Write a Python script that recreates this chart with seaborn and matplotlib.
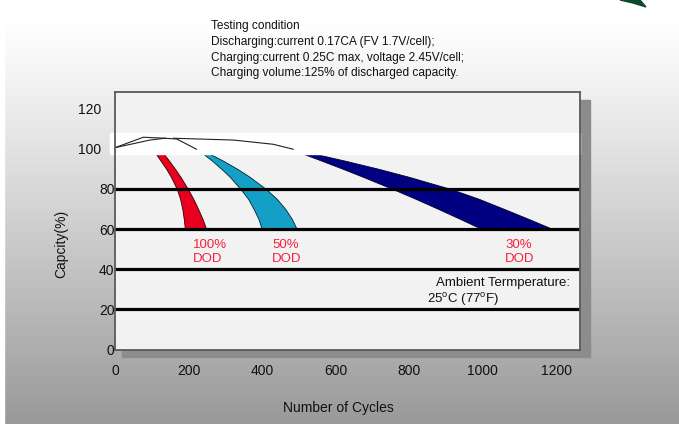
import numpy as np
import pandas as pd
import matplotlib
matplotlib.use("Agg")
import matplotlib.pyplot as plt
from matplotlib.patches import Rectangle, Polygon
import seaborn as sns

# ---------------- data ----------------
cap_levels = [98, 94, 90, 86, 80, 75, 70, 65, 60]
dod100_left = [109, 124, 139, 152, 168, 177, 183, 187, 190]
dod100_right = [130, 147, 163, 178, 198, 213, 226, 238, 248]
dod50_left = [236, 264, 289, 312, 341, 362, 377, 390, 399]
dod50_right = [252, 294, 332, 366, 410, 440, 463, 481, 494]
dod30_left = [504, 562, 619, 674, 754, 818, 879, 939, 997]
dod30_right = [530, 626, 716, 799, 912, 990, 1058, 1125, 1190]

# thin capacity traces drawn in the white band near 100 %
trace_a_x = [0, 77, 136]
trace_a_y = [100.5, 105.7, 105.2]
trace_b_x = [0, 95, 136]
trace_b_y = [100.5, 104.3, 105.2]
trace_c_x = [136, 168, 222]
trace_c_y = [105.2, 104.8, 99.7]
trace_d_x = [158, 322, 430, 485]
trace_d_y = [105.2, 104.3, 102.2, 99.7]

grid_levels = [20, 40, 60, 80]
x_ticks = [0, 200, 400, 600, 800, 1000, 1200]
y_ticks = [0, 20, 40, 60, 80, 100, 120]

title_lines = [
    "Testing condition",
    "Discharging:current 0.17CA (FV 1.7V/cell);",
    "Charging:current 0.25C max, voltage 2.45V/cell;",
    "Charging volume:125% of discharged capacity.",
]
dod_labels = ["100%\nDOD", "50%\nDOD", "30%\nDOD"]

# ---------------- style ----------------
sns.set_theme(style="white")
plt.rcParams["font.family"] = ["Liberation Sans", "DejaVu Sans"]
plt.rcParams["mathtext.fontset"] = "custom"
plt.rcParams["mathtext.rm"] = "Liberation Sans"
plt.rcParams["mathtext.it"] = "Liberation Sans:italic"

W, H = 679, 424
fig = plt.figure(figsize=(W / 100, H / 100), dpi=100)

# background gradient
bg = fig.add_axes([0, 0, 1, 1], zorder=-10)
rows = np.linspace(0, 1, 256)
vals = np.clip(1.0 - 0.40 * np.clip((rows - 0.05) / 0.95, 0, 1) ** 1.1, 0, 1)
img = np.repeat(vals[:, None], 8, axis=1)
img = np.dstack([img, img, img])
bg.imshow(img, aspect="auto", extent=[0, 1, 0, 1], origin="upper")
bg.add_patch(Rectangle((0, 0), 4 / W, 1, color="white", transform=bg.transAxes))
bg.set_axis_off()

# shadow behind the plotting frame
fig.patches.append(Rectangle((122 / W, (H - 357) / H), 468 / W, 257 / H,
                             transform=fig.transFigure, color="#8c8c8c", zorder=-5))
# logo fragment (top-right)
fig.patches.append(Polygon([(620 / W, 1), (640 / W, 1), (646 / W, 1 - 7 / H), (633 / W, 1 - 3 / H)],
                           closed=True, transform=fig.transFigure, color="#0c4a2a", zorder=5))

ax_bottom = 349.7
ax_top = 92
ax = fig.add_axes([115 / W, (H - ax_bottom) / H, 465 / W, (ax_bottom - ax_top) / H])
ax.set_facecolor("#f2f2f2")
ax.set_xlim(0, 1264)
ax.set_ylim(0, 128.2)

# bands
ax.fill_betweenx(cap_levels, dod100_left, dod100_right, color="#e8001e", edgecolor="#300000", lw=0.6, zorder=2)
ax.fill_betweenx(cap_levels, dod50_left, dod50_right, color="#149fc6", edgecolor="#002030", lw=0.6, zorder=2)
ax.fill_betweenx(cap_levels, dod30_left, dod30_right, color="#000080", edgecolor="#000030", lw=0.6, zorder=2)

# white band near 100 %
ax.add_patch(Rectangle((-0.011, 97.4), 1.011, 10.4, transform=ax.get_yaxis_transform(),
                       color="white", clip_on=False, zorder=3))

# thin traces via seaborn
traces = pd.concat([
    pd.DataFrame({"cycles": trace_a_x, "cap": trace_a_y, "id": "a"}),
    pd.DataFrame({"cycles": trace_b_x, "cap": trace_b_y, "id": "b"}),
    pd.DataFrame({"cycles": trace_c_x, "cap": trace_c_y, "id": "c"}),
    pd.DataFrame({"cycles": trace_d_x, "cap": trace_d_y, "id": "d"}),
])
for tid, grp in traces.groupby("id"):
    sns.lineplot(data=grp, x="cycles", y="cap", ax=ax, color="#222222", lw=0.8,
                 sort=False, estimator=None, zorder=4, legend=False)

# horizontal black lines
for g in grid_levels:
    ax.axhline(g, color="black", lw=2.3, zorder=5)

# frame
for s in ax.spines.values():
    s.set_visible(True)
    s.set_color("#5a5a5a")
    s.set_linewidth(1.3)
    s.set_zorder(6)

ax.set_xticks(x_ticks)
ax.set_xticklabels([str(v) for v in x_ticks], fontsize=10, color="#111111")
ax.set_yticks(y_ticks)
ax.set_yticklabels([str(v) for v in y_ticks], fontsize=10, color="#111111")
ax.tick_params(axis="x", length=0, pad=10)
ax.tick_params(axis="y", direction="in", length=4, width=1, color="#444444")
for t, v in zip(ax.yaxis.get_major_ticks(), y_ticks):
    t.set_pad(10.0 if v >= 100 else 0.3)

ax.set_xlabel("Number of Cycles", fontsize=10, color="#111111")
ax.xaxis.set_label_coords((338 - 115) / 465, (ax_bottom - 408) / (ax_bottom - ax_top))
ax.xaxis.label.set_va("center")
ax.set_ylabel("Capcity(%)", fontsize=10, color="#111111")
ax.yaxis.set_label_coords((61 - 115) / 465, (ax_bottom - 244) / (ax_bottom - ax_top))
ax.yaxis.label.set_va("center")
ax.yaxis.label.set_ha("center")

# DOD labels (positions in pixels -> axes fraction)
def axfrac(px, py):
    return ((px - 115) / 465, (ax_bottom - py) / (ax_bottom - ax_top))

for lab, (px, py) in zip(dod_labels, [(193, 252), (272, 252), (505, 252)]):
    ax.text(*axfrac(px, py), lab, transform=ax.transAxes, color="#f5203c",
            fontsize=9.5, ha="left", va="center", linespacing=1.15, zorder=7)

ax.text(*axfrac(570, 283), "Ambient Termperature:", transform=ax.transAxes,
        fontsize=9.5, ha="right", va="center", color="#111111", zorder=7)
ax.text(*axfrac(427, 300), r"25$^{\mathrm{o}}$C (77$^{\mathrm{o}}$F)", transform=ax.transAxes,
        fontsize=9.5, ha="left", va="center", color="#111111", zorder=7)

for line, py in zip(title_lines, [25.7, 42.0, 57.5, 73.0]):
    fig.text(211 / W, 1 - py / H, line, fontsize=8.6, ha="left", va="center", color="#111111")

fig.savefig("out.png", dpi=100)
